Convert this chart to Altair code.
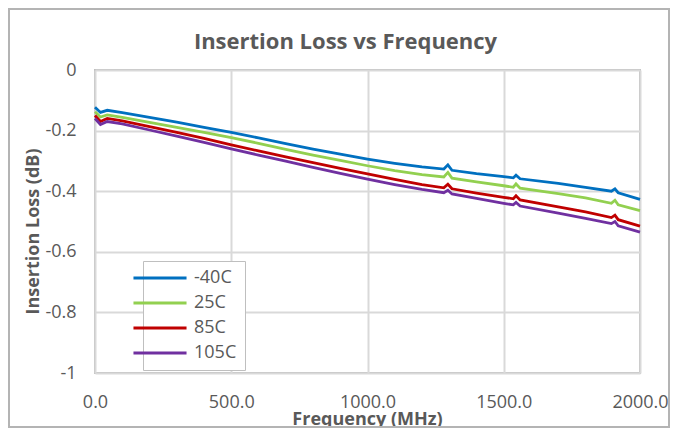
import altair as alt
import pandas as pd

freq = [0, 20, 45, 100, 200, 300, 400, 500, 600, 700, 800, 900, 1000, 1100, 1200,
        1280, 1295, 1310, 1400, 1500, 1535, 1545, 1560, 1700, 1800, 1895, 1908, 1920, 2000]

loss_m40 = [-0.123, -0.140, -0.133, -0.141, -0.156, -0.172, -0.189, -0.206, -0.224, -0.243,
            -0.261, -0.278, -0.294, -0.308, -0.320, -0.327, -0.313, -0.331, -0.342, -0.352,
            -0.356, -0.347, -0.359, -0.374, -0.387, -0.400, -0.392, -0.405, -0.427]
loss_25 = [-0.138, -0.155, -0.148, -0.156, -0.173, -0.189, -0.206, -0.223, -0.242, -0.262,
           -0.281, -0.298, -0.316, -0.332, -0.345, -0.353, -0.338, -0.357, -0.369, -0.382,
           -0.387, -0.376, -0.390, -0.408, -0.422, -0.440, -0.430, -0.445, -0.464]
loss_85 = [-0.150, -0.170, -0.160, -0.168, -0.187, -0.206, -0.226, -0.247, -0.267, -0.287,
           -0.306, -0.325, -0.343, -0.361, -0.378, -0.389, -0.377, -0.392, -0.406, -0.420,
           -0.425, -0.415, -0.429, -0.452, -0.468, -0.487, -0.479, -0.494, -0.515]
loss_105 = [-0.160, -0.180, -0.170, -0.178, -0.198, -0.218, -0.239, -0.260, -0.281, -0.301,
            -0.321, -0.341, -0.360, -0.378, -0.394, -0.405, -0.397, -0.409, -0.424, -0.440,
            -0.445, -0.437, -0.449, -0.472, -0.490, -0.507, -0.500, -0.514, -0.535]

series_names = ["-40C", "25C", "85C", "105C"]
series_colors = ["#0070C0", "#92D050", "#C00000", "#7030A0"]
x_ticks = [0, 500, 1000, 1500, 2000]
y_ticks = [0, -0.2, -0.4, -0.6, -0.8, -1]

rows = []
for name, vals in zip(series_names, [loss_m40, loss_25, loss_85, loss_105]):
    for f, v in zip(freq, vals):
        rows.append({"Frequency": f, "Loss": v, "Temp": name})
df = pd.DataFrame(rows)

FONT = "Open Sans"
GRAY = "#595959"

lines = alt.Chart(df).mark_line(strokeWidth=2.8).encode(
    x=alt.X("Frequency:Q",
            scale=alt.Scale(domain=[0, 2000], nice=False, zero=False),
            axis=alt.Axis(values=x_ticks, format=".1f", title="Frequency (MHz)",
                          titleX=272, titleY=46, titleBaseline="middle",
                          labelPadding=20, labelFlush=False, labelOverlap=False)),
    y=alt.Y("Loss:Q",
            scale=alt.Scale(domain=[-1, 0], nice=False),
            axis=alt.Axis(values=y_ticks, title="Insertion Loss (dB)",
                          labelExpr="datum.value == 0 ? '0' : (datum.value == -1 ? '-1' : '-' + format(abs(datum.value), '.1f'))",
                          titleX=-62, titleY=161, titleAngle=270, titleAlign="center",
                          titleBaseline="middle", labelPadding=19)),
    color=alt.Color("Temp:N",
                    scale=alt.Scale(domain=series_names, range=series_colors),
                    legend=alt.Legend(title=None, orient="none", legendX=48, legendY=191,
                                      symbolType="M-4,0H4", symbolSize=176,
                                      symbolStrokeWidth=3, labelFontSize=18,
                                      labelColor=GRAY, labelFont=FONT,
                                      fillColor="white", strokeColor="#bfbfbf",
                                      padding=8, rowPadding=7, labelOffset=25)),
    order=alt.Order("Frequency:Q"),
)

border = alt.Chart(pd.DataFrame({"a": [0]})).mark_rect(
    filled=False, stroke="#b4b4b4", strokeWidth=2
).encode(
    x=alt.value(-86), x2=alt.value(574), y=alt.value(-61), y2=alt.value(357)
)

chart = alt.layer(border, lines).properties(
    width=545, height=303,
    autosize=alt.AutoSizeParams(type="none"),
    padding={"left": 87, "top": 62, "right": 30, "bottom": 55},
    title=alt.TitleParams("Insertion Loss vs Frequency", anchor="middle", dx=-22,
                          offset=-56, baseline="middle", fontSize=22, font=FONT,
                          fontWeight="bold", color=GRAY),
    background="white",
).configure_view(
    stroke="#bfbfbf", strokeWidth=2
).configure_axis(
    grid=True, gridColor="#d9d9d9", gridWidth=2, domain=False, ticks=False,
    labelFont=FONT, labelFontSize=18, labelColor=GRAY,
    titleFont=FONT, titleFontSize=18, titleColor=GRAY, titleFontWeight="bold",
)

chart.save("out.html", embed_options={"renderer": "svg", "actions": False})
